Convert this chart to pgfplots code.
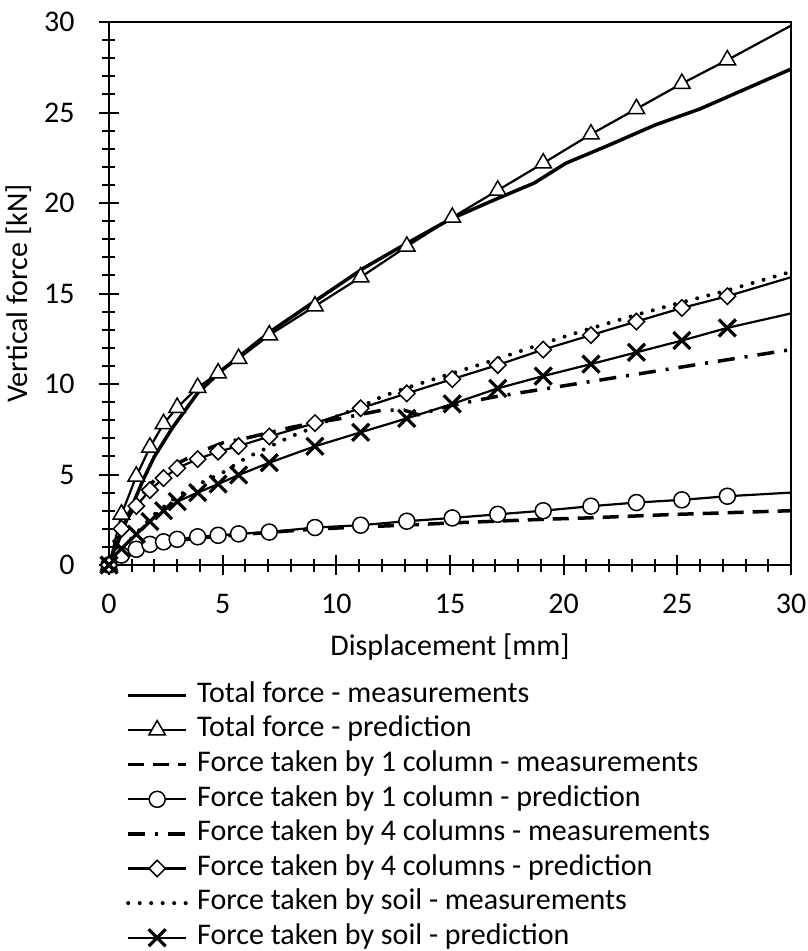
\documentclass[border=0pt]{standalone}
\usepackage{fontspec}
\setmainfont{Carlito}
\usepackage{pgfplots}
\pgfplotsset{compat=1.18}
\begin{document}
\begin{tikzpicture}[font=\fontsize{30}{36}\selectfont]
\begin{axis}[
 scale only axis, width=682pt, height=543pt,
 xmin=0, xmax=30, ymin=0, ymax=30,
 xtick={0,5,...,30}, ytick={0,5,...,30},
 minor tick num=4,
 axis lines=left,
 axis line style={-, line width=2.2pt},
 tick align=center,
 major tick length=20pt, minor tick length=13pt,
 tick style={black, line width=2pt},
 /pgf/number format/assume math mode=true,
 ticklabel style={font=\fontsize{30}{36}\selectfont},
 xticklabel style={anchor=center, yshift=-29pt},
 yticklabel style={anchor=east, xshift=-21pt},
 xlabel={Displacement [mm]}, ylabel={Vertical force [kN]},
 label style={font=\fontsize{30}{36}\selectfont},
 xlabel style={at={(rel axis cs:0.5,-0.152)}, anchor=center},
 ylabel style={at={(rel axis cs:-0.133,0.5)}, anchor=center},
 clip=false,
 legend cell align=left,
 legend style={at={(rel axis cs:0.0249,-0.2081)}, anchor=north west, draw=none, fill=none,
   inner sep=0pt, font=\fontsize{30}{36}\selectfont, row sep=0pt,
   nodes={inner sep=0pt, text height=24pt, text depth=10.6pt},
   /tikz/every odd column/.append style={column sep=9pt}},
 legend image code/.code={\draw[#1,mark indices={2}] plot coordinates {(0pt,0pt) (29pt,0pt) (58pt,0pt)};},
]
% Total force - measurements
\addplot[black, line width=3.5pt, no markers] coordinates {
(0,0) (0.5,1.6) (1,3.2) (1.5,4.7) (2,6.0) (2.8,7.6) (3.9,9.5) (5,10.8) (5.8,11.6) (7.1,12.9) (9.2,14.7) (11.2,16.4) (13,17.7) (15,19.1) (17,20.2) (18.7,21.1) (20.1,22.2) (22,23.2) (24,24.3) (26,25.2) (28,26.3) (30,27.4)};
\addlegendentry{Total force - measurements}
% Total force - prediction
\addplot[black, line width=2.2pt, mark=triangle*, mark size=9.5pt, mark options={solid, fill=white, line width=1.5pt},
 mark indices={1,2,3,4,5,6,7,8,9,10,11,12,13,14,15,16,17,18,19,20}] coordinates {
(0,0) (0.55,2.8) (1.2,4.9) (1.8,6.5) (2.4,7.8) (3.0,8.7) (3.9,9.8) (4.8,10.6) (5.7,11.4) (7.05,12.7) (9.06,14.3) (11.07,15.9) (13.1,17.6) (15.1,19.2) (17.1,20.7) (19.1,22.2) (21.2,23.8) (23.2,25.2) (25.2,26.6) (27.2,27.9) (30,29.8)};
\addlegendentry{Total force - prediction}
% 1 column - measurements
\addplot[black, line width=3.5pt, no markers, dash pattern=on 16pt off 9pt] coordinates {
(0,0) (0.5,0.5) (1,0.8) (2,1.15) (3,1.35) (4,1.5) (5,1.6) (6,1.7) (7,1.8) (9,1.98) (11,2.1) (13,2.2) (15,2.32) (17,2.42) (19,2.52) (21,2.6) (23,2.7) (25,2.8) (27,2.88) (30,3.0)};
\addlegendentry{Force taken by 1 column - measurements}
% 1 column - prediction
\addplot[black, line width=2.2pt, mark=*, mark size=8pt, mark options={solid, fill=white, line width=1.5pt},
 mark indices={1,2,3,4,5,6,7,8,9,10,11,12,13,14,15,16,17,18,19,20}] coordinates {
(0,0) (0.55,0.55) (1.2,0.87) (1.8,1.14) (2.4,1.28) (3.0,1.42) (3.9,1.56) (4.8,1.64) (5.7,1.72) (7.05,1.82) (9.06,2.07) (11.07,2.2) (13.1,2.42) (15.1,2.6) (17.1,2.8) (19.1,3.0) (21.2,3.25) (23.2,3.45) (25.2,3.6) (27.2,3.8) (30,4.0)};
\addlegendentry{Force taken by 1 column - prediction}
% 4 columns - measurements
\addplot[black, line width=3.5pt, no markers, dash pattern=on 17pt off 10pt on 3pt off 10pt] coordinates {
(0,0) (0.5,1.8) (1,3.2) (2,4.7) (3,5.6) (4,6.25) (5,6.75) (6,7.0) (7,7.3) (8,7.6) (9,7.85) (10,8.05) (11,8.3) (12,8.55) (13,8.55) (13.6,8.3) (15,8.8) (17,9.3) (19,9.7) (21,10.1) (23,10.5) (25,10.9) (27,11.3) (30,11.9)};
\addlegendentry{Force taken by 4 columns - measurements}
% 4 columns - prediction
\addplot[black, line width=2.2pt, mark=square*, mark size=5.8pt, mark options={solid, fill=white, line width=1.5pt, rotate=45},
 mark indices={1,2,3,4,5,6,7,8,9,10,11,12,13,14,15,16,17,18,19,20}] coordinates {
(0,0) (0.55,2.0) (1.2,3.26) (1.8,4.14) (2.4,4.8) (3.0,5.35) (3.9,5.85) (4.8,6.26) (5.7,6.57) (7.05,7.1) (9.06,7.84) (11.07,8.66) (13.1,9.48) (15.1,10.27) (17.1,11.05) (19.1,11.9) (21.2,12.7) (23.2,13.45) (25.2,14.2) (27.2,14.85) (30,15.9)};
\addlegendentry{Force taken by 4 columns - prediction}
% soil - measurements
\addplot[black, line width=4pt, no markers, line cap=round, dash pattern=on 0pt off 11.5pt] coordinates {
(0,0) (1,1.5) (2,2.8) (3,3.8) (4,4.5) (5,5.1) (6,5.9) (7,6.5) (8,7.1) (9,7.6) (10,8.2) (11,8.7) (12,9.3) (13,9.75) (14,10.15) (15,10.55) (17,11.35) (19,12.2) (21,13.0) (23,13.75) (25,14.45) (27,15.1) (30,16.2)};
\addlegendentry{Force taken by soil - measurements}
% soil - prediction
\addplot[black, line width=2.2pt, mark=x, mark size=12pt, mark options={solid, line width=3.2pt},
 mark indices={1,2,3,4,5,6,7,8,9,10,11,12,13,14,15,16,17,18,19,20}] coordinates {
(0,0) (0.55,0.9) (1.2,1.7) (1.8,2.4) (2.4,3.0) (3.0,3.5) (3.9,4.0) (4.8,4.47) (5.7,4.97) (7.05,5.65) (9.06,6.56) (11.07,7.33) (13.1,8.1) (15.1,8.9) (17.1,9.76) (19.1,10.44) (21.2,11.1) (23.2,11.75) (25.2,12.4) (27.2,13.1) (30,13.9)};
\addlegendentry{Force taken by soil - prediction}
\draw[line width=1.5pt] (rel axis cs:0,1) -- (rel axis cs:1,1) -- (rel axis cs:1,0);
\coordinate (O) at (rel axis cs:0,0);
\end{axis}
\pgfresetboundingbox
\path (O) ++(-109pt,-386pt) rectangle ++(807pt,951pt);
\end{tikzpicture}
\end{document}
